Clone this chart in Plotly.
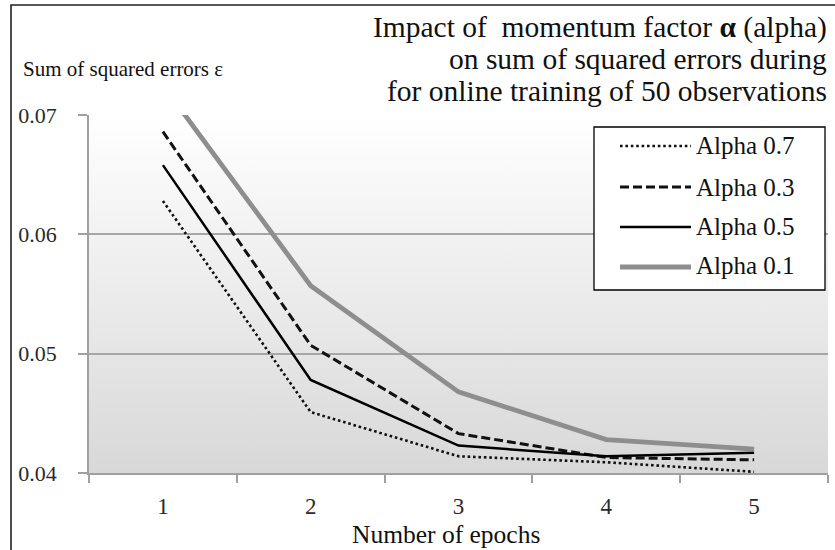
import base64
import plotly.graph_objects as go

epochs = ["1", "2", "3", "4", "5"]
alpha_07 = [0.0628, 0.0451, 0.0414, 0.0409, 0.0401]
alpha_03 = [0.0686, 0.0507, 0.0433, 0.0413, 0.0411]
alpha_05 = [0.0658, 0.0478, 0.0423, 0.0414, 0.0417]
alpha_01 = [0.0725, 0.0557, 0.0468, 0.0428, 0.0420]
series_names = ["Alpha 0.7", "Alpha 0.3", "Alpha 0.5", "Alpha 0.1"]
title_lines = ["Impact of  momentum factor <b>α</b> (alpha)",
               "on sum of squared errors during",
               "for online training of 50 observations"]

W, H = 835, 550
L, R, T, B = 89, 7, 115, 77
PW, PH = W - L - R, H - T - B


def px_x(p):
    return (p - L) / PW


def px_y(p):
    return (H - B - p) / PH


FONT = "Liberation Serif, Times New Roman, serif"
TXT = "#111111"

styles = [
    dict(color="#111111", width=2.6, dash="2.6px,2.8px"),
    dict(color="#111111", width=3, dash="9px,4px"),
    dict(color="#000000", width=2.5, dash="solid"),
    dict(color="#8e8e8e", width=4.8, dash="solid"),
]

fig = go.Figure()
for name, ys, st in zip(series_names, [alpha_07, alpha_03, alpha_05, alpha_01], styles):
    fig.add_trace(go.Scatter(x=epochs, y=ys, mode="lines", name=name,
                             line=st, showlegend=False))

svg = ('<svg xmlns="http://www.w3.org/2000/svg" width="10" height="100" '
       'preserveAspectRatio="none"><defs><linearGradient id="g" x1="0" y1="0" x2="0" y2="1">'
       '<stop offset="0" stop-color="#ffffff"/><stop offset="1" stop-color="#d8d8d8"/>'
       '</linearGradient></defs><rect width="10" height="100" fill="url(#g)"/></svg>')
src = "data:image/svg+xml;base64," + base64.b64encode(svg.encode()).decode()

shapes = []
annotations = []

# outer frame (left and top edges)
shapes.append(dict(type="rect", xref="paper", yref="paper", layer="above",
                   x0=px_x(11), x1=px_x(845), y0=px_y(560), y1=px_y(5),
                   fillcolor="rgba(0,0,0,0)", line=dict(color="#222222", width=1.6)))

# legend box
shapes.append(dict(type="rect", xref="paper", yref="paper", layer="above",
                   x0=px_x(594), x1=px_x(825), y0=px_y(290), y1=px_y(127),
                   fillcolor="white", line=dict(color="#000000", width=1.3)))
line_rows = [146, 187, 227, 267]
text_rows = [145, 187, 226, 265]
for name, st, ry, ty in zip(series_names, styles, line_rows, text_rows):
    shapes.append(dict(type="line", xref="paper", yref="paper", layer="above",
                       x0=px_x(620), x1=px_x(691), y0=px_y(ry), y1=px_y(ry),
                       line=dict(color=st["color"], width=st["width"], dash=st["dash"])))
    annotations.append(dict(text=name, xref="paper", yref="paper", x=px_x(694), y=px_y(ty),
                            xanchor="left", yanchor="middle", showarrow=False,
                            font=dict(family=FONT, size=25, color=TXT)))

for line, cy in zip(title_lines, [27, 59, 91]):
    annotations.append(dict(
        text=line, xref="paper", yref="paper", x=px_x(829), y=px_y(cy),
        xanchor="right", yanchor="middle", align="right", showarrow=False,
        font=dict(family=FONT, size=29.5, color=TXT)))
annotations.append(dict(text="Sum of squared errors ε", xref="paper", yref="paper",
                        x=px_x(21), y=px_y(69), xanchor="left", yanchor="middle",
                        showarrow=False, font=dict(family=FONT, size=21, color=TXT)))
annotations.append(dict(text="Number of epochs", xref="paper", yref="paper",
                        x=px_x(446), y=px_y(534.5), xanchor="center", yanchor="middle",
                        showarrow=False, font=dict(family=FONT, size=25.5, color=TXT)))

fig.update_layout(
    width=W, height=H,
    margin=dict(l=L, r=R, t=T, b=B, pad=0, autoexpand=False),
    paper_bgcolor="white",
    plot_bgcolor="rgba(0,0,0,0)",
    images=[dict(source=src, xref="paper", yref="paper", x=0, y=1, sizex=1, sizey=1,
                 xanchor="left", yanchor="top", sizing="stretch", layer="below")],
    shapes=shapes,
    annotations=annotations,
    xaxis=dict(type="category", range=[-0.5, 4.5], tickson="boundaries", ticks="outside",
               ticklen=8, tickcolor="#a0a0a0", tickwidth=1.5, showline=True,
               linecolor="#a0a0a0", linewidth=1.5, showgrid=False, zeroline=False,
               ticklabelstandoff=12, fixedrange=True, automargin=False,
               tickfont=dict(family=FONT, size=23, color="#2a2a2a")),
    yaxis=dict(range=[0.04, 0.07], dtick=0.01, tickformat=".2f", ticks="outside",
               ticklen=9, tickcolor="#a0a0a0", tickwidth=1.5, showline=True,
               linecolor="#a0a0a0", linewidth=1.5, showgrid=True, gridcolor="#a6a6a6",
               gridwidth=1.5, zeroline=False, fixedrange=True, ticklabelstandoff=17,
               automargin=False,
               tickfont=dict(family=FONT, size=22, color="#2a2a2a")),
)

fig.write_html("out.html", config={"displayModeBar": False},
               post_script="document.body.style.margin='0';document.body.style.overflow='hidden';")
